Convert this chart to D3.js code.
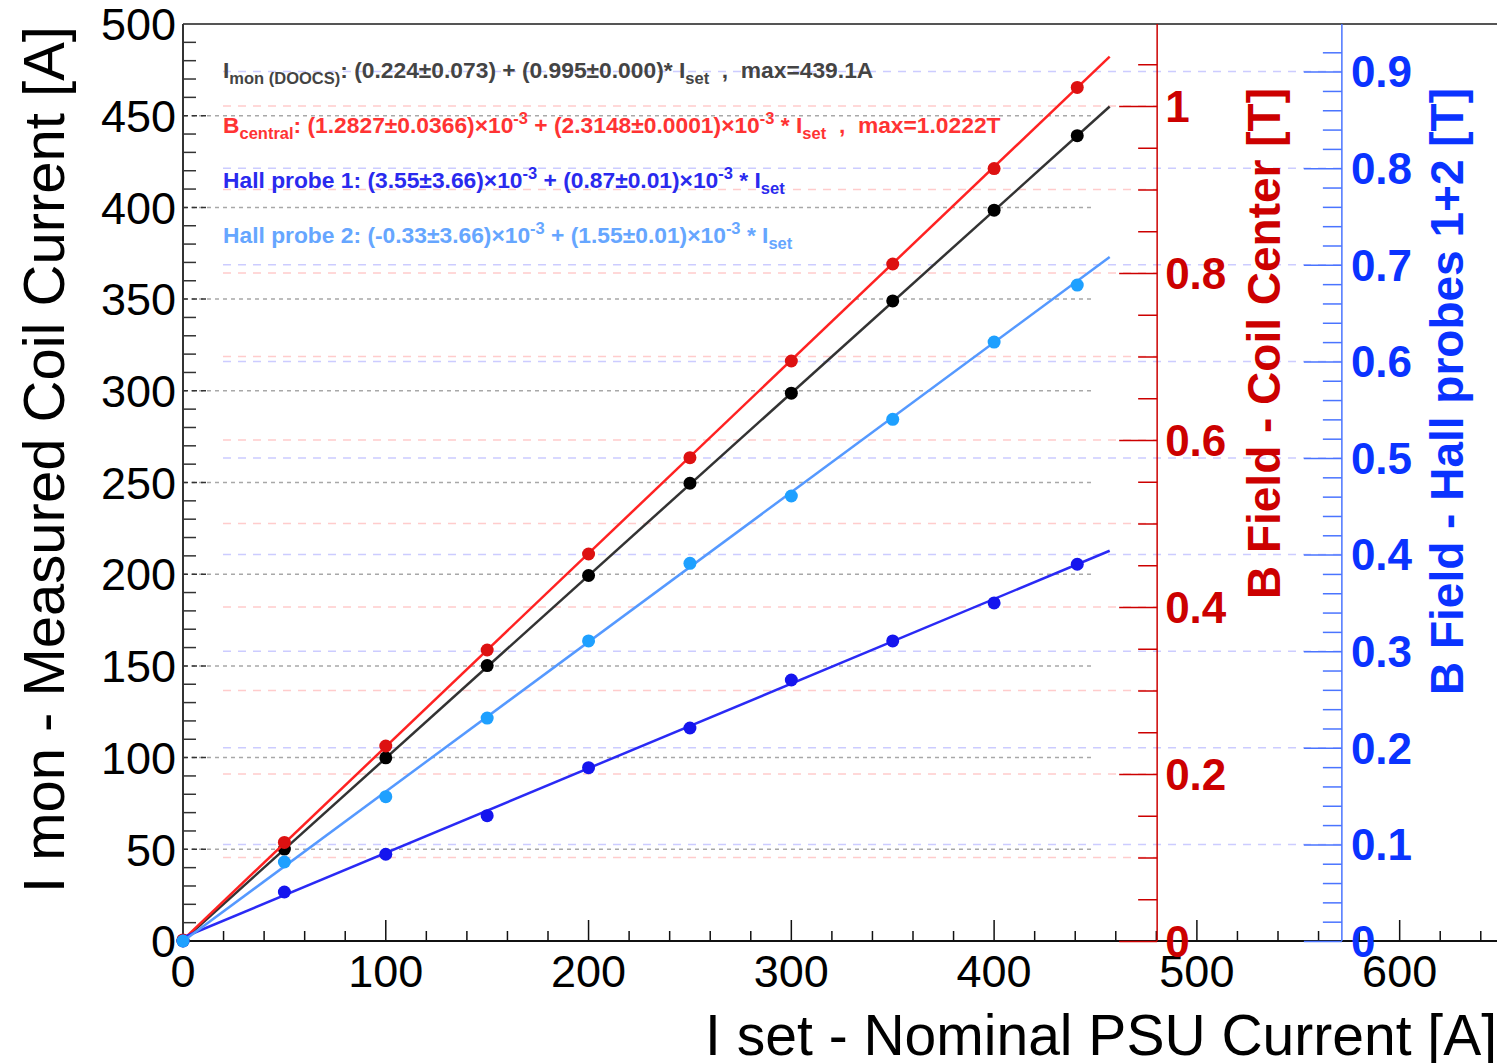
<!DOCTYPE html>
<html>
<head>
<meta charset="utf-8">
<script src="https://cdn.jsdelivr.net/npm/d3@7"></script>
<style>
  body { margin: 0; background: #fff; }
  svg { display: block; font-family: "Liberation Sans", Arial, Helvetica, sans-serif; }
  text { white-space: pre; }
</style>
</head>
<body>
<div id="chart"></div>
<script>
// measured points
const iSet = [0, 50, 100, 150, 200, 250, 300, 350, 400, 441];
const iMon = [0.2, 50.1, 99.9, 150.2, 199.3, 249.6, 298.7, 349.0, 398.5, 439.1];   // A, left axis
const bCentral = [0.0013, 0.118, 0.2335, 0.3485, 0.4635, 0.5788, 0.6946, 0.8108, 0.925, 1.0222]; // T, red axis
const hall1 = [0.000, 0.0507, 0.0898, 0.1297, 0.1794, 0.2205, 0.2702, 0.3106, 0.350, 0.390];   // T, blue axis
const hall2 = [0.000, 0.0818, 0.1494, 0.2308, 0.3106, 0.391, 0.4607, 0.540, 0.620, 0.679];     // T, blue axis

// fit line end points
const fitX = [0, 457];
const fitIMon = [0.224, 455.0];
const fitBCentral = [0.0013, 1.0591];
const fitHall1 = [0.0036, 0.404];
const fitHall2 = [-0.0003, 0.708];

// tick labels
const xTickValues = [0, 100, 200, 300, 400, 500, 600];
const yTickValues = [0, 50, 100, 150, 200, 250, 300, 350, 400, 450, 500];
const redTickValues = [0, 0.2, 0.4, 0.6, 0.8, 1];
const blueTickValues = [0, 0.1, 0.2, 0.3, 0.4, 0.5, 0.6, 0.7, 0.8, 0.9];

// fit result texts: [text, "sub"/"sup"/undefined]
const legendLines = [
  [["I"], ["mon (DOOCS)", "sub"], [": (0.224\u00b10.073) + (0.995\u00b10.000)* I"], ["set", "sub"], ["  ,  max=439.1A"]],
  [["B"], ["central", "sub"], [": (1.2827\u00b10.0366)\u00d710"], ["-3", "sup"], [" + (2.3148\u00b10.0001)\u00d710"], ["-3", "sup"], [" * I"], ["set", "sub"], ["  ,  max=1.0222T"]],
  [["Hall probe 1: (3.55\u00b13.66)\u00d710"], ["-3", "sup"], [" + (0.87\u00b10.01)\u00d710"], ["-3", "sup"], [" * I"], ["set", "sub"]],
  [["Hall probe 2: (-0.33\u00b13.66)\u00d710"], ["-3", "sup"], [" + (1.55\u00b10.01)\u00d710"], ["-3", "sup"], [" * I"], ["set", "sub"]]
];
const legendColors = ["#444444", "#ff3333", "#2a2aee", "#66a6ff"];

// layout
const WIDTH = 1497;
const HEIGHT = 1063;
const LEFT = 183;
const TOP = 24;
const BOTTOM = 941;
const RIGHT = 1497;
const RED_AXIS_AT = 480.4;   // in x units
const BLUE_AXIS_AT = 571.5;

const svg = d3.select("#chart")
  .append("svg")
  .attr("width", WIDTH)
  .attr("height", HEIGHT);

const xScale = d3.scaleLinear().domain([0, 648]).range([LEFT, RIGHT]);
const yScale = d3.scaleLinear().domain([0, 500]).range([BOTTOM, TOP]);
const yRed = d3.scaleLinear().domain([0, 1.0982]).range([BOTTOM, TOP]);
const yBlue = d3.scaleLinear().domain([0, 0.9493]).range([BOTTOM, TOP]);

const redX = xScale(RED_AXIS_AT);
const blueX = xScale(BLUE_AXIS_AT);

// grid lines
svg.append("g").selectAll("line")
  .data(d3.range(50, 451, 50))
  .join("line")
  .attr("x1", LEFT).attr("x2", 1095)
  .attr("y1", d => yScale(d)).attr("y2", d => yScale(d))
  .attr("stroke", "#a8a8a8").attr("stroke-width", 1.5)
  .attr("stroke-dasharray", "4,4");

svg.append("g").selectAll("line")
  .data(d3.range(1, 11).map(d => d / 10))
  .join("line")
  .attr("x1", 223).attr("x2", redX)
  .attr("y1", d => yRed(d)).attr("y2", d => yRed(d))
  .attr("stroke", "#ffcccc").attr("stroke-width", 1.5)
  .attr("stroke-dasharray", "8,7");

svg.append("g").selectAll("line")
  .data(d3.range(1, 10).map(d => d / 10))
  .join("line")
  .attr("x1", 223).attr("x2", blueX)
  .attr("y1", d => yBlue(d)).attr("y2", d => yBlue(d))
  .attr("stroke", "#ccccff").attr("stroke-width", 1.5)
  .attr("stroke-dasharray", "8,7");

// frame
svg.append("line")
  .attr("x1", LEFT).attr("x2", RIGHT).attr("y1", TOP).attr("y2", TOP)
  .attr("stroke", "#555").attr("stroke-width", 2);

// x axis
const xAxisG = svg.append("g");
xAxisG.append("line")
  .attr("x1", LEFT).attr("x2", RIGHT).attr("y1", BOTTOM).attr("y2", BOTTOM)
  .attr("stroke", "#111").attr("stroke-width", 2);
xAxisG.selectAll(".minor")
  .data(d3.range(0, 648, 20))
  .join("line")
  .attr("x1", d => xScale(d)).attr("x2", d => xScale(d))
  .attr("y1", BOTTOM).attr("y2", d => BOTTOM - (d % 100 === 0 ? 21 : 10))
  .attr("stroke", "#111").attr("stroke-width", 1.5);
xAxisG.selectAll("text")
  .data(xTickValues)
  .join("text")
  .attr("x", d => xScale(d))
  .attr("y", 987)
  .attr("text-anchor", "middle")
  .attr("font-size", 45)
  .text(d => d);

// left y axis
const yAxisG = svg.append("g");
yAxisG.append("line")
  .attr("x1", LEFT).attr("x2", LEFT).attr("y1", TOP).attr("y2", BOTTOM)
  .attr("stroke", "#333").attr("stroke-width", 2);
yAxisG.selectAll(".minor")
  .data(d3.range(0, 500, 10).filter(d => d % 50 !== 0))
  .join("line")
  .attr("x1", LEFT).attr("x2", LEFT + 13)
  .attr("y1", d => yScale(d)).attr("y2", d => yScale(d))
  .attr("stroke", "#333").attr("stroke-width", 1.5);
yAxisG.selectAll(".major")
  .data(d3.range(50, 451, 50))
  .join("line")
  .attr("x1", LEFT).attr("x2", LEFT + 26)
  .attr("y1", d => yScale(d)).attr("y2", d => yScale(d))
  .attr("stroke", "#333").attr("stroke-width", 1.5)
  .attr("stroke-dasharray", "5,4");
yAxisG.selectAll("text")
  .data(yTickValues)
  .join("text")
  .attr("x", 176)
  .attr("y", d => yScale(d))
  .attr("dy", "0.36em")
  .attr("text-anchor", "end")
  .attr("font-size", 45)
  .text(d => d);

// red axis (B field coil center)
const redAxis = d3.axisLeft(yRed)
  .tickValues(d3.range(0, 1.1, 0.05))
  .tickSize(19)
  .tickFormat("");
const redG = svg.append("g")
  .attr("transform", `translate(${redX},0)`)
  .call(redAxis);
redG.select(".domain").remove();
redG.selectAll(".tick line")
  .attr("stroke", "#cc0000").attr("stroke-width", 1.5)
  .attr("x2", (d, i) => (i % 4 === 0 ? -38 : -19));
redG.append("line")
  .attr("y1", TOP).attr("y2", BOTTOM)
  .attr("stroke", "#cc0000").attr("stroke-width", 1.5);
svg.append("g").selectAll("text")
  .data(redTickValues)
  .join("text")
  .attr("x", redX + 8)
  .attr("y", d => yRed(d))
  .attr("dy", "0.36em")
  .attr("text-anchor", "start")
  .attr("font-size", 44)
  .attr("font-weight", "bold")
  .attr("fill", "#cc0000")
  .text(d => d);

// blue axis (hall probes)
const blueAxis = d3.axisLeft(yBlue)
  .tickValues(d3.range(0, 47).map(d => d * 0.02))
  .tickSize(19)
  .tickFormat("");
const blueG = svg.append("g")
  .attr("transform", `translate(${blueX},0)`)
  .call(blueAxis);
blueG.select(".domain").remove();
blueG.selectAll(".tick line")
  .attr("stroke", "#4a74ff").attr("stroke-width", 1.5)
  .attr("x2", (d, i) => (i % 5 === 0 ? -38 : -19));
blueG.append("line")
  .attr("y1", TOP).attr("y2", BOTTOM)
  .attr("stroke", "#4a74ff").attr("stroke-width", 1.5);
svg.append("g").selectAll("text")
  .data(blueTickValues)
  .join("text")
  .attr("x", blueX + 9)
  .attr("y", d => yBlue(d))
  .attr("dy", "0.36em")
  .attr("text-anchor", "start")
  .attr("font-size", 44)
  .attr("font-weight", "bold")
  .attr("fill", "#0a33ff")
  .text(d => d);

// series
const series = [
  { pts: iMon, fit: fitIMon, y: yScale, line: "#333333", dot: "#000000" },
  { pts: bCentral, fit: fitBCentral, y: yRed, line: "#ff2222", dot: "#dd1111" },
  { pts: hall1, fit: fitHall1, y: yBlue, line: "#2a2af5", dot: "#1515ee" },
  { pts: hall2, fit: fitHall2, y: yBlue, line: "#5599ff", dot: "#1ea0ff" }
];

series.forEach(s => {
  const line = d3.line()
    .x(d => xScale(d.x))
    .y(d => s.y(d.y));
  svg.append("path")
    .datum(fitX.map((x, i) => ({ x: x, y: s.fit[i] })))
    .attr("fill", "none")
    .attr("stroke", s.line)
    .attr("stroke-width", 2.5)
    .attr("d", line);
  svg.append("g").selectAll("circle")
    .data(iSet.map((x, i) => ({ x: x, y: s.pts[i] })))
    .join("circle")
    .attr("cx", d => xScale(d.x))
    .attr("cy", d => s.y(d.y))
    .attr("r", 6.5)
    .attr("fill", s.dot);
});

// fit texts
const legendY = [78, 133, 188, 243];
legendLines.forEach((parts, li) => {
  const t = svg.append("text")
    .attr("x", 223)
    .attr("y", legendY[li])
    .attr("font-size", 22.8)
    .attr("font-weight", "bold")
    .attr("fill", legendColors[li]);
  let shift = 0;
  parts.forEach(([str, kind]) => {
    let target = 0;
    if (kind === "sub") target = 6;
    if (kind === "sup") target = -9;
    t.append("tspan")
      .attr("dy", target - shift)
      .attr("font-size", kind ? 16.5 : 22.8)
      .text(str);
    shift = target;
  });
});

// axis titles
svg.append("text")
  .attr("transform", "translate(64,26) rotate(-90)")
  .attr("text-anchor", "end")
  .attr("font-size", 58)
  .text("I mon - Measured Coil Current [A]");

svg.append("text")
  .attr("x", 1497)
  .attr("y", 1055)
  .attr("text-anchor", "end")
  .attr("font-size", 57)
  .text("I set - Nominal PSU Current [A]");

svg.append("text")
  .attr("transform", "translate(1280,88) rotate(-90)")
  .attr("text-anchor", "end")
  .attr("font-size", 46)
  .attr("font-weight", "bold")
  .attr("fill", "#cc0000")
  .text("B Field - Coil Center [T]");

svg.append("text")
  .attr("transform", "translate(1463,88) rotate(-90)")
  .attr("text-anchor", "end")
  .attr("font-size", 46)
  .attr("font-weight", "bold")
  .attr("fill", "#0a33ff")
  .text("B Field - Hall probes 1+2 [T]");
</script>
</body>
</html>
